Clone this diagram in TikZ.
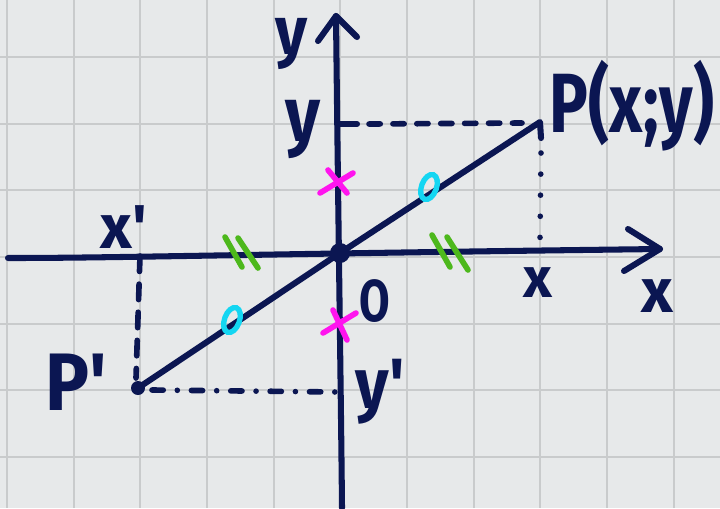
\documentclass[tikz,border=0pt]{standalone}
\usepackage{fontspec}
\setmainfont{Fira Sans}
\definecolor{navy}{HTML}{0B1652}
\definecolor{paper}{HTML}{E7E9EA}
\definecolor{gridc}{HTML}{C9CBCC}
\definecolor{mag}{HTML}{FF14EE}
\definecolor{grn}{HTML}{4DB81C}
\definecolor{cyn}{HTML}{14D6F2}
\begin{document}
\begin{tikzpicture}[x=0.025cm,y=-0.025cm,
  ink/.style={draw=navy,line width=4.3pt,line cap=round,line join=round},
  thinink/.style={draw=navy,line width=4pt,line cap=round},
  lbl/.style={text=navy,inner sep=0pt,font=\bfseries},
  gridline/.style={draw=gridc,line width=1.4pt},
  crossmark/.style={draw=mag,line width=4pt,line cap=round},
  eqmark/.style={draw=grn,line width=4pt,line cap=round},
  zeromark/.style={draw=cyn,line width=3.8pt}]
\useasboundingbox[fill=paper] (0,0) rectangle (720,508);
% grid
\foreach \k in {0,...,10} \draw[gridline] ({7+66.67*\k},0) -- ({7+66.67*\k},508);
\foreach \k in {0,...,6} \draw[gridline] (0,{57+66.67*\k}) -- (720,{57+66.67*\k});
% key points
\coordinate (O) at (340,253);
\coordinate (P) at (540,122);
\coordinate (Pp) at (138,388);
\coordinate (xl) at (8,258);
\coordinate (xr) at (660,249);
\coordinate (xa1) at (628,229);
\coordinate (xa2) at (624,271);
\coordinate (yb) at (342,508);
\coordinate (yt) at (336,16);
\coordinate (ya1) at (318,41);
\coordinate (ya2) at (357,37);
\coordinate (ytick) at (339,124);
\coordinate (ytickend) at (357,124);
\coordinate (ydashend) at (522,123);
\coordinate (Pstub) at (541,138);
\coordinate (xfoot) at (540,238);
\coordinate (xptick) at (140,256);
\coordinate (Ppup) at (136,378);
\coordinate (yp) at (337,392);
\coordinate (Ppr) at (152,390);
% axes
\draw[ink] (xl) .. controls (120,258) and (250,254) .. (xr);
\draw[ink] (xa1) -- (xr) -- (xa2);
\draw[ink] (yb) .. controls (341,400) and (338,200) .. (yt);
\draw[ink] (ya1) -- (yt) -- (ya2);
\draw[ink] (ytick) -- (ytickend);
% segment P'P
\draw[ink] (Pp) -- (O) -- (P) -- (Pstub);
\fill[navy] (O) circle (10);
\fill[navy] (Pp) circle (7);
% projections
\draw[thinink,dash pattern=on 8pt off 9pt] (ytickend) ++(12,0) -- (ydashend);
\draw[thinink,dash pattern=on 0pt off 15pt] (Pstub) ++(0,15) -- (xfoot);
\draw[thinink,dash pattern=on 11pt off 9pt] (xptick) -- (Ppup);
\draw[thinink,dash pattern=on 8pt off 10pt on 0pt off 10pt] (Ppr) -- (yp);
% marks
\draw[crossmark] (320,193) -- (353,173) (328,170) -- (347,193);
\draw[crossmark] (323,333) -- (356,313) (333,310) -- (347,340);
\draw[eqmark] (225,237) -- (242,267) (238,238) -- (258,268);
\draw[eqmark] (432,235) -- (450,267) (447,237) -- (468,270);
\draw[zeromark] (232,320) ellipse[x radius=7.5, y radius=13, rotate=-20];
\draw[zeromark] (429,187) ellipse[x radius=7.5, y radius=13, rotate=-20];
% labels
\node[lbl,font=\bfseries\fontsize{44}{44}\selectfont,yscale=1.1] (yaxl) at (292,44) {y};
\node[lbl,font=\bfseries\fontsize{48}{48}\selectfont,yscale=1.15] (ylab) at (303,130) {y};
\node[lbl,font=\bfseries\fontsize{44}{44}\selectfont,anchor=base] (xplab) at (124,248) {x\textquotesingle};
\node[lbl,font=\bfseries\fontsize{46}{46}\selectfont,yscale=1.3] (Plab) at (632,106) {P(x;y)};
\node[lbl,font=\bfseries\fontsize{58}{58}\selectfont,anchor=base,xscale=0.9] (Pplab) at (76,410) {P\textquotesingle};
\node[lbl,font=\bfseries\fontsize{46}{46}\selectfont,yscale=1.1] (yplab) at (380,392) {y\textquotesingle};
\node[lbl,font=\bfseries\fontsize{40}{40}\selectfont] (xlab) at (538,283) {x};
\node[lbl,font=\bfseries\fontsize{44}{44}\selectfont] (xaxl) at (657,296) {x};
\node[lbl,font=\bfseries\fontsize{42}{42}\selectfont,xscale=0.75] (Olab) at (375,301) {O};
\end{tikzpicture}
\end{document}
